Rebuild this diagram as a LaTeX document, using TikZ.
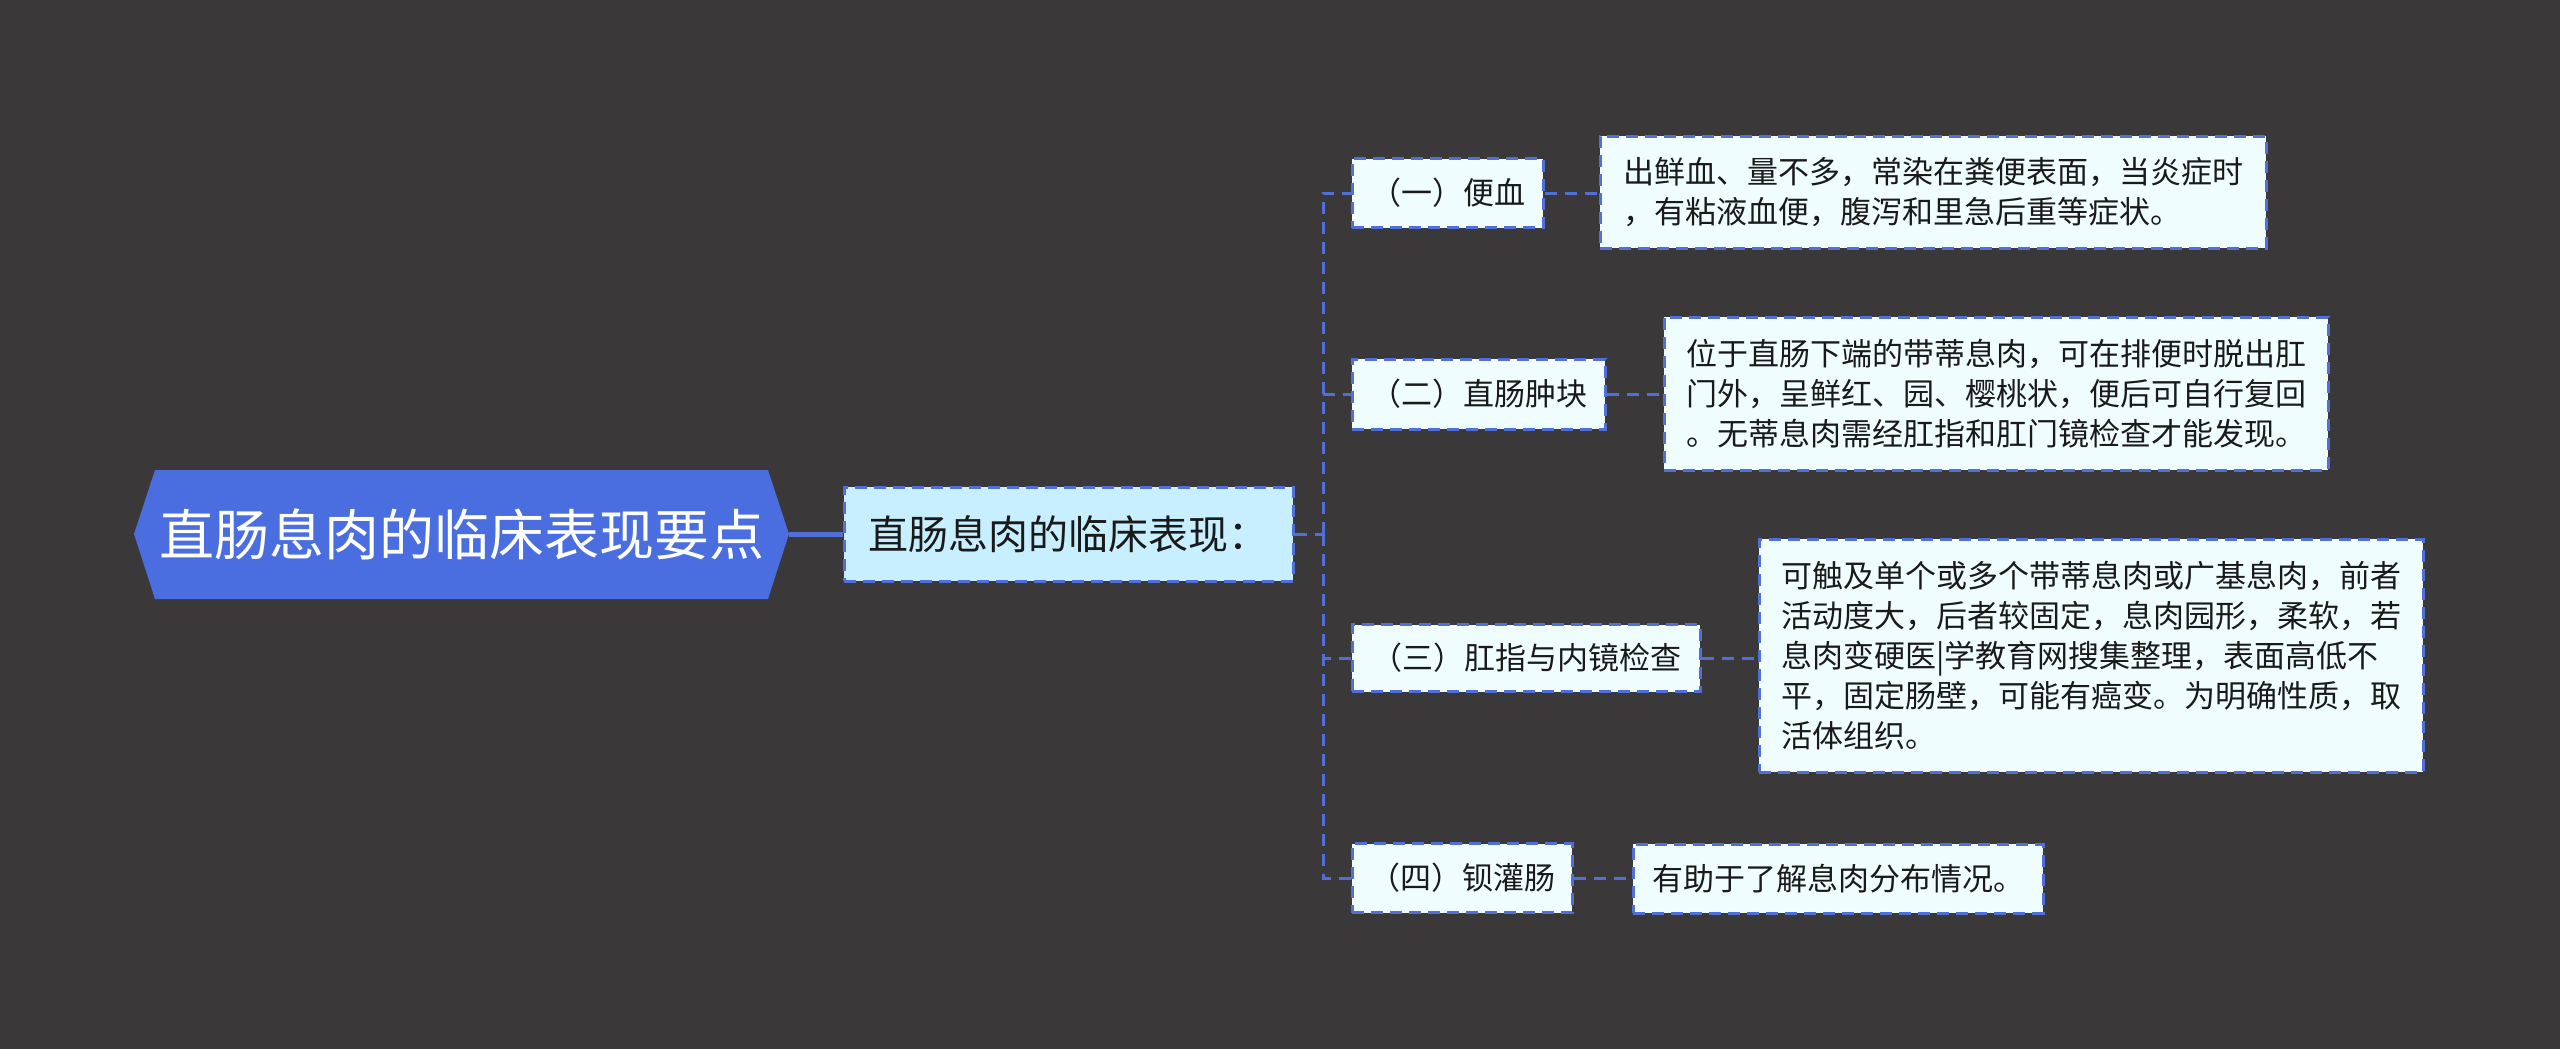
\documentclass[tikz,border=0pt]{standalone}
\usepackage{fontspec}
\setmainfont{Noto Sans CJK SC}
\definecolor{bgc}{HTML}{3A3839}
\definecolor{rootc}{HTML}{4A6EE0}
\definecolor{linec}{HTML}{5070D8}
\definecolor{childc}{HTML}{C8EFFF}
\definecolor{leafc}{HTML}{F0FDFF}
\definecolor{txtc}{HTML}{1A1A1A}
\tikzset{
  conn/.style={draw=linec, line width=3pt, dash pattern=on 12pt off 8pt},
  box/.style={draw=linec, line width=3pt, dash pattern=on 12pt off 7pt, text=txtc, inner sep=0pt, align=left},
  lvtwo/.style={box, fill=leafc, font=\fontsize{31}{40}\selectfont},
  lvthree/.style={box, fill=leafc, font=\fontsize{31}{40}\selectfont},
  childbox/.style={box, fill=childc, font=\fontsize{40}{48}\selectfont},
}
\begin{document}
\begin{tikzpicture}[x=1pt,y=-1pt]
\fill[bgc] (0,0) rectangle (2560,1049);
\useasboundingbox (0,0) rectangle (2560,1049);
% root
\node[minimum width=655pt, minimum height=129pt, inner sep=0pt] (root) at (461.5,534) {};
\fill[rootc] (134,534) -- (155,470) -- (768,470) -- (789,534) -- (768,599) -- (155,599) -- cycle;
\node[text=white, font=\fontsize{55}{62}\selectfont] (roottext) at (root.center) {直肠息肉的临床表现要点};
% child
\node[childbox, minimum width=449pt, minimum height=94pt] (child) at (1068.5,534) {直肠息肉的临床表现：};
% level 2
\node[lvtwo, minimum width=191pt, minimum height=69pt] (a) at (1447.5,193) {（一）便血};
\node[lvtwo, minimum width=253pt, minimum height=70pt] (b) at (1478.5,394) {（二）直肠肿块};
\node[lvtwo, minimum width=348pt, minimum height=67pt] (c) at (1526,658) {（三）肛指与内镜检查};
\node[lvtwo, minimum width=220pt, minimum height=69pt] (d) at (1462,878) {（四）钡灌肠};
% level 3
\node[lvthree, minimum width=666pt, minimum height=112pt] (A) at (1933,192) {出鲜血、量不多，常染在粪便表面，当炎症时\\，有粘液血便，腹泻和里急后重等症状。};
\node[lvthree, minimum width=664pt, minimum height=153pt] (B) at (1996,393.5) {位于直肠下端的带蒂息肉，可在排便时脱出肛\\门外，呈鲜红、园、樱桃状，便后可自行复回\\。无蒂息肉需经肛指和肛门镜检查才能发现。};
\node[lvthree, minimum width=664pt, minimum height=233pt] (C) at (2091,655.5) {可触及单个或多个带蒂息肉或广基息肉，前者\\活动度大，后者较固定，息肉园形，柔软，若\\息肉变硬医|学教育网搜集整理，表面高低不\\平，固定肠壁，可能有癌变。为明确性质，取\\活体组织。};
\node[lvthree, minimum width=410pt, minimum height=69pt] (D) at (1838,878.5) {有助于了解息肉分布情况。};
% connectors
\coordinate (trunk) at (1323,534);
\draw[draw=linec, line width=5pt] (root.east) -- (child.west);
\draw[conn] (child.east) -- (trunk);
\draw[conn] (trunk) |- (a.west);
\draw[conn] (trunk) |- (b.west);
\draw[conn] (trunk) |- (c.west);
\draw[conn] (trunk) |- (d.west);
\draw[conn] (a.east) -- (A.west |- a.east);
\draw[conn] (b.east) -- (B.west |- b.east);
\draw[conn] (c.east) -- (C.west |- c.east);
\draw[conn] (d.east) -- (D.west |- d.east);
\end{tikzpicture}
\end{document}
